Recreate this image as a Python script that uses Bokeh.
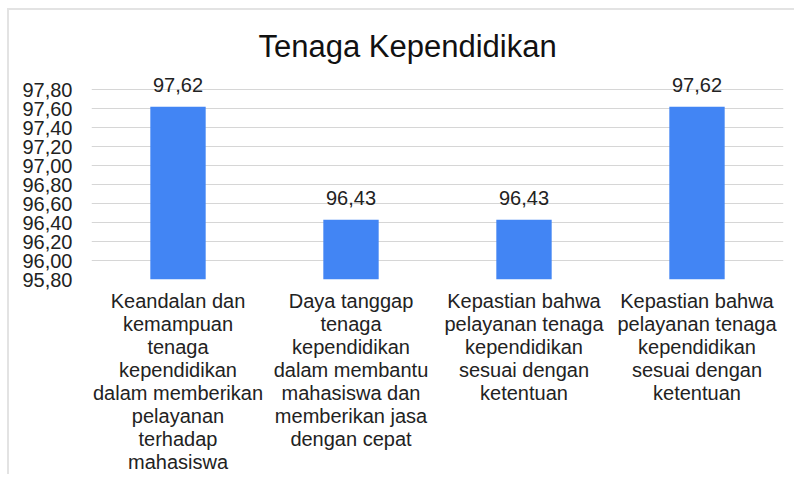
from bokeh.plotting import figure
from bokeh.models import ColumnDataSource, FixedTicker, Range1d
from bokeh.core.properties import value
from bokeh.embed import file_html
from bokeh.resources import INLINE

# ---- data ----
# (the fourth label ends with a zero-width space so the two identical texts stay distinct factors)
categories = [
    "Keandalan dan\nkemampuan\ntenaga\nkependidikan\ndalam memberikan\npelayanan\nterhadap\nmahasiswa",
    "Daya tanggap\ntenaga\nkependidikan\ndalam membantu\nmahasiswa dan\nmemberikan jasa\ndengan cepat",
    "Kepastian bahwa\npelayanan tenaga\nkependidikan\nsesuai dengan\nketentuan",
    "Kepastian bahwa\npelayanan tenaga\nkependidikan\nsesuai dengan\nketentuan\u200b",
]
values = [97.62, 96.43, 96.43, 97.62]
value_labels = ["97,62", "96,43", "96,43", "97,62"]
y_ticks = [95.8, 96.0, 96.2, 96.4, 96.6, 96.8, 97.0, 97.2, 97.4, 97.6, 97.8]
y_tick_labels = ["95,80", "96,00", "96,20", "96,40", "96,60", "96,80",
                 "97,00", "97,20", "97,40", "97,60", "97,80"]
y_min = 95.8
title_text = "Tenaga Kependidikan"

FONT = "Liberation Sans"
BLUE = "#4285f4"

source = ColumnDataSource(dict(x=categories, top=values, label=value_labels))

p = figure(
    x_range=categories,
    y_range=Range1d(y_min, 97.95),
    width=787, height=466,
    output_backend="svg", toolbar_location=None,
    min_border_left=82, min_border_right=13,
    min_border_top=65, min_border_bottom=197,
)
p.styles = {"position": "relative", "left": "9px", "top": "10px",
            "box-shadow": "-2px -2px 0 0 #e3e3e3"}

p.vbar(x="x", top="top", bottom=y_min, width=0.32, source=source,
       fill_color=BLUE, line_color=None)
p.text(x="x", y="top", text="label", source=source,
       text_font=value(FONT), text_font_size="20px", text_color="#222222",
       text_align="center", text_baseline="alphabetic", y_offset=-22)

# title
p.title.text = title_text
p.title.text_font = FONT
p.title.text_font_size = "31px"
p.title.text_font_style = "normal"
p.title.text_color = "#111111"
p.title.align = "left"
p.title.offset = 167
p.title.standoff = 24

# y axis
p.yaxis.ticker = FixedTicker(ticks=y_ticks)
p.yaxis.major_label_overrides = {t: l for t, l in zip(y_ticks, y_tick_labels)}
p.yaxis.axis_line_color = None
p.yaxis.major_tick_line_color = None
p.yaxis.minor_tick_line_color = None
p.yaxis.major_label_text_font = FONT
p.yaxis.major_label_text_font_size = "20px"
p.yaxis.major_label_text_color = "#222222"
p.yaxis.major_label_standoff = 13

# x axis
p.xaxis.axis_line_color = None
p.xaxis.major_tick_line_color = None
p.xaxis.major_label_text_font = FONT
p.xaxis.major_label_text_font_size = "20px"
p.xaxis.major_label_text_color = "#222222"
p.xaxis.major_label_text_line_height = 1.05
p.xaxis.major_label_standoff = 4

p.xgrid.grid_line_color = None
p.ygrid.grid_line_color = "#d6d6d6"
p.ygrid.ticker = FixedTicker(ticks=y_ticks)
p.outline_line_color = None

open("out.html", "w").write(file_html(p, INLINE))
